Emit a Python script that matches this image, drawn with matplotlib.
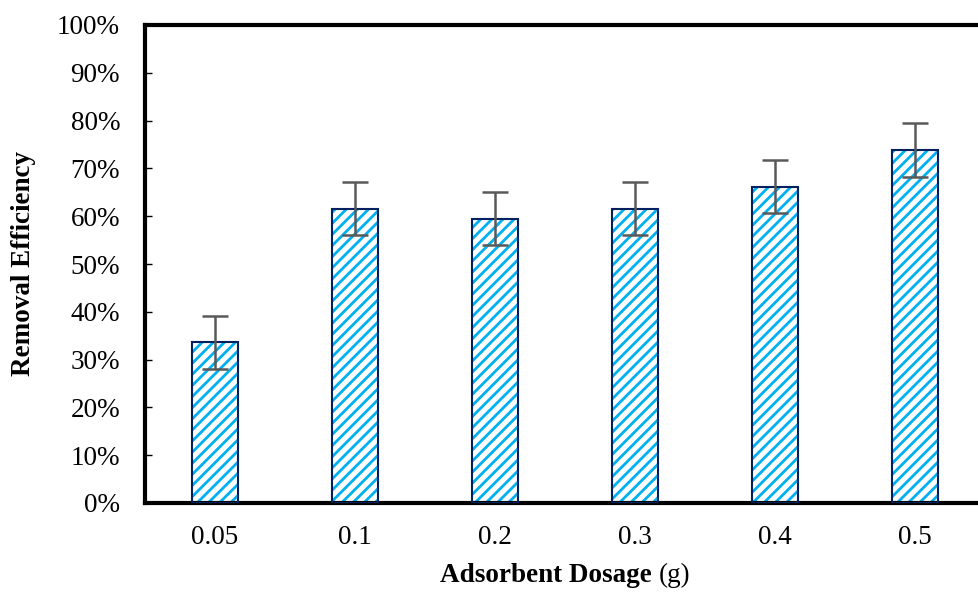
import matplotlib.pyplot as plt
from matplotlib.ticker import FuncFormatter

plt.rcParams['font.family'] = ['Liberation Serif', 'DejaVu Serif']
plt.rcParams['hatch.linewidth'] = 2.0

dosage = ['0.05', '0.1', '0.2', '0.3', '0.4', '0.5']
efficiency = [33.6, 61.6, 59.5, 61.6, 66.2, 73.8]
error = [5.6, 5.6, 5.6, 5.6, 5.5, 5.6]

fig = plt.figure(figsize=(9.79, 5.92), dpi=100)
ax = fig.add_axes([145 / 979, 1 - 503 / 592, 840 / 979, 478 / 592])

x = range(len(dosage))
# hatch first (stripe colour comes from edgecolor), outline on top
ax.bar(x, efficiency, width=0.33, color='white', edgecolor='#00B0F0',
       hatch='///', linewidth=0, zorder=2)
ax.bar(x, efficiency, width=0.33, fill=False, edgecolor='#002060',
       linewidth=1.5, zorder=3)
ax.errorbar(x, efficiency, yerr=error, fmt='none', ecolor='#595959',
            elinewidth=1.8, capsize=9.5, capthick=1.8, zorder=4)

ax.set_xlim(-0.5, len(dosage) - 0.5)
ax.set_ylim(0, 100)
ax.set_yticks(range(0, 101, 10))
ax.yaxis.set_major_formatter(FuncFormatter(lambda v, p: f'{v:.0f}%'))
ax.set_xticks(list(x))
ax.set_xticklabels(dosage)

ax.tick_params(axis='y', direction='in', length=5, width=1, pad=18,
               labelsize=19.5)
ax.tick_params(axis='x', length=0, pad=16, labelsize=19.5)

for side in ['left', 'bottom', 'top', 'right']:
    ax.spines[side].set_linewidth(3)
    ax.spines[side].set_color('black')

ax.set_ylabel('Removal Efficiency', fontsize=19.5, fontweight='bold',
              labelpad=15)

# x label: bold name followed by regular unit
ly = -0.125
lbl = ax.text(0.5, ly, 'Adsorbent Dosage ', transform=ax.transAxes,
              ha='right', va='top', fontsize=19.5, fontweight='bold')
unit = ax.annotate('(g)', xy=(1, 0), xycoords=lbl, ha='left', va='bottom',
                   fontsize=19.5)
fig.canvas.draw()
r = fig.canvas.get_renderer()
w = lbl.get_window_extent(r).width + unit.get_window_extent(r).width
ax_w = ax.get_window_extent(r).width
cx = (565 - 145) / ax_w
lbl.set_position((cx + (lbl.get_window_extent(r).width - w / 2) / ax_w, ly))

fig.savefig('out.png', dpi=100)
